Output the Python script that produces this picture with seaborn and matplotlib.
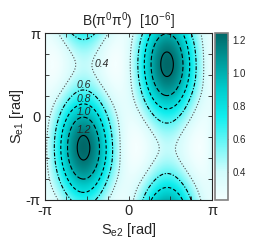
import numpy as np
import matplotlib
matplotlib.use("Agg")
import matplotlib.pyplot as plt
import seaborn as sns

# B(pi0 pi0) [10^-6] on a pi/4 grid (periodic, -pi .. 3pi/4)
se2_grid = np.arange(-4, 4) * np.pi / 4   # columns
se1_grid = np.arange(-4, 4) * np.pi / 4   # rows
br_rows = [
    [0.30, 0.52, 0.68, 0.41, 0.33, 0.76, 0.98, 0.60],  # Se1 = -pi
    [0.34, 0.76, 0.99, 0.60, 0.30, 0.51, 0.67, 0.41],  # -3pi/4
    [0.36, 0.93, 1.20, 0.74, 0.27, 0.34, 0.45, 0.28],  # -pi/2
    [0.36, 0.93, 1.20, 0.73, 0.27, 0.34, 0.46, 0.28],  # -pi/4
    [0.33, 0.76, 0.98, 0.60, 0.30, 0.52, 0.68, 0.41],  # 0
    [0.30, 0.51, 0.67, 0.41, 0.34, 0.76, 0.99, 0.60],  # pi/4
    [0.27, 0.34, 0.45, 0.28, 0.36, 0.93, 1.20, 0.74],  # pi/2
    [0.27, 0.34, 0.46, 0.28, 0.36, 0.93, 1.20, 0.73],  # 3pi/4
]
levels = [0.4, 0.6, 0.8, 1.0, 1.2]
level_labels = ["0.4", "0.6", "0.8", "1.0", "1.2"]
cbar_ticks = [0.4, 0.6, 0.8, 1.0, 1.2]

sns.set_style("ticks")
plt.rcParams["font.family"] = ["Liberation Sans", "DejaVu Sans"]
plt.rcParams["mathtext.fontset"] = "custom"
plt.rcParams["mathtext.rm"] = "Liberation Sans"
plt.rcParams["mathtext.it"] = "Liberation Sans:italic"

# smooth periodic resampling of the grid for display
z = np.array(br_rows)
n = z.shape[0]
coef = np.fft.fft2(z) / z.size
freq = np.fft.fftfreq(n, d=1.0 / n)
fine = np.linspace(-np.pi, np.pi, 361)
basis = np.exp(1j * np.outer(fine - se2_grid[0], freq))
zf = (basis @ coef @ basis.T).real

cmap = sns.blend_palette(["#f4ffff", "#d2fcfc", "#6ff7f7", "#10eeee",
                          "#00cccc", "#009a9a", "#006868"], as_cmap=True)

fig = plt.figure(figsize=(2.61, 2.45), dpi=100)
ax = fig.add_axes([0.1724, 0.1837, 0.640, 0.6816])
cax = fig.add_axes([0.822, 0.1837, 0.052, 0.6816])

im = ax.imshow(zf, origin="lower", extent=[-np.pi, np.pi, -np.pi, np.pi],
               cmap=cmap, vmin=zf.min(), vmax=zf.max(), aspect="auto",
               interpolation="bilinear")
styles = [(0, (1, 1.6)), (0, (3.5, 1.5, 1, 1.5)), (0, (3, 2)),
          (0, (4, 2)), "solid"]
colors = ["0.3", "black", "black", "black", "black"]
cs = ax.contour(fine, fine, zf, levels=levels, colors=colors,
                linestyles=styles, linewidths=0.8)

# level labels on the column through the lower-left peak
lower = np.where(fine[:, None] < 0, zf, -np.inf)
r, c = np.unravel_index(np.argmax(lower), zf.shape)
for lev, txt in zip(levels[1:], level_labels[1:]):
    k = r + np.argmax(zf[r:, c] < lev)
    ax.text(fine[c], fine[k], txt, ha="center", va="bottom", fontsize=7.5,
            style="italic")
rt = r + (len(fine) - 1) // 2
k = c + np.argmax(zf[rt, c:] < levels[0])
ax.text(fine[k] + 0.08, fine[rt], level_labels[0], ha="left", va="center",
        fontsize=7.5, style="italic")

ticks = np.arange(-4, 5) * np.pi / 4
tick_txt = ["-π", "", "", "", "0", "", "", "", "π"]
ax.set_xticks(ticks)
ax.set_xticklabels(tick_txt)
ax.set_yticks(ticks)
ax.set_yticklabels(tick_txt)
ax.set_xlim(-np.pi, np.pi)
ax.set_ylim(-np.pi, np.pi)
ax.tick_params(direction="in", top=True, right=True, length=3, width=0.6,
               labelsize=10.5, pad=3)
for s in ax.spines.values():
    s.set_linewidth(0.8)

ax.set_xlabel(r"$\mathregular{S_{e2}}$ [rad]", fontsize=10.5, labelpad=2)
ax.set_ylabel(r"$\mathregular{S_{e1}}$ [rad]", fontsize=10.5, labelpad=0)
ax.set_title(r"B($\mathregular{\pi^0\pi^0}$)  [10$^{\mathregular{-6}}$]",
             fontsize=10, pad=5)

cb = fig.colorbar(im, cax=cax, ticks=cbar_ticks, format="%.1f")
cb.outline.set_edgecolor("0.5")
cb.outline.set_linewidth(1.2)
cax.tick_params(direction="in", length=3, width=0.6, labelsize=7, pad=3)

fig.savefig("out.png", dpi=100)
